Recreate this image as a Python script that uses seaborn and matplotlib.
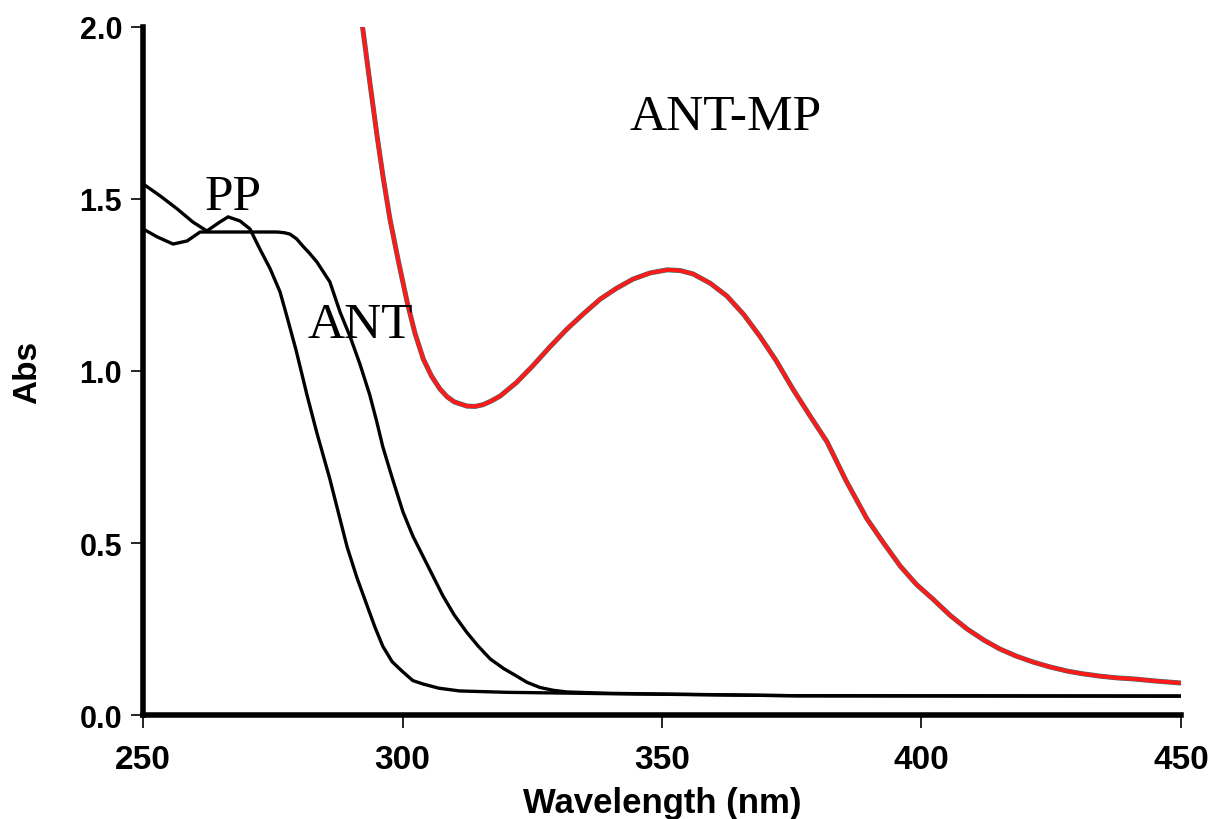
import numpy as np
import pandas as pd
import matplotlib.pyplot as plt
import seaborn as sns

# Data (wavelength in nm, absorbance)
pp_nm = [250, 253.3, 256.6, 259.6, 262.3, 264.8, 266.4, 268.7, 270.6, 272.5, 274.5, 276.4,
         277.7, 279.5, 281.6, 283.5, 286, 287.7, 289.3, 291.2, 293.2, 294.7, 296.2, 298,
         300.1, 302, 304, 307, 311, 320, 340, 376, 450]
pp_abs = [1.544, 1.509, 1.471, 1.433, 1.407, 1.433, 1.448, 1.436, 1.413, 1.355, 1.297, 1.23,
          1.16, 1.06, 0.93, 0.82, 0.686, 0.585, 0.49, 0.40, 0.317, 0.255, 0.20, 0.155,
          0.125, 0.10, 0.09, 0.078, 0.07, 0.066, 0.062, 0.056, 0.055]

ant_nm = [250, 252.7, 255.8, 258.5, 261, 266.2, 271.2, 275.8, 277.2, 278.3, 279.6, 280.8, 282.1,
          283.5, 286, 288, 289.9, 291.8, 293.7, 295, 296.2, 298, 300.1, 302, 304, 306, 307.8,
          310, 312.4, 314.6, 316.9, 319.5, 322, 324, 326.5, 329, 331.7, 340, 376, 450]
ant_abs = [1.413, 1.39, 1.369, 1.378, 1.404, 1.404, 1.404, 1.404, 1.402, 1.398, 1.384, 1.363, 1.342,
           1.317, 1.259, 1.17, 1.10, 1.02, 0.93, 0.855, 0.78, 0.69, 0.59, 0.52, 0.46, 0.40, 0.346,
           0.29, 0.24, 0.20, 0.163, 0.135, 0.113, 0.095, 0.08, 0.072, 0.067, 0.063, 0.056, 0.055]

antmp_nm = [292.3, 293.7, 295.1, 296.3, 297.6, 299.2, 300.9, 302.4, 304, 305.6, 307.2, 308.6,
            310, 312.4, 314, 315.5, 317, 318.8, 322, 325.1, 328.4, 331.7, 335, 338.1, 341.2,
            344.4, 347.7, 351, 353.5, 356, 359.3, 362.5, 365.7, 368.9, 372, 375.2, 378.5,
            381.8, 385.5, 389.5, 392.7, 395.9, 399, 402.2, 405.5, 408.8, 412, 415.1, 418.3,
            421.5, 424.7, 428, 431, 434.4, 437.6, 440.8, 445, 450]
antmp_abs = [2.0, 1.84, 1.683, 1.56, 1.44, 1.32, 1.20, 1.11, 1.035, 0.985, 0.948, 0.925,
             0.91, 0.898, 0.897, 0.902, 0.912, 0.927, 0.967, 1.015, 1.07, 1.122, 1.168, 1.209, 1.24,
             1.267, 1.285, 1.294, 1.292, 1.282, 1.255, 1.218, 1.165, 1.10, 1.03, 0.948, 0.87,
             0.794, 0.68, 0.57, 0.50, 0.433, 0.38, 0.337, 0.29, 0.25, 0.218, 0.192, 0.171,
             0.154, 0.14, 0.128, 0.12, 0.113, 0.108, 0.105, 0.099, 0.093]

x_ticks = [250, 300, 350, 400, 450]
y_ticks = [0.0, 0.5, 1.0, 1.5, 2.0]

sns.set_style('ticks')
plt.rcParams['font.family'] = ['Liberation Sans', 'DejaVu Sans']
plt.rcParams['text.color'] = 'black'
plt.rcParams['axes.labelcolor'] = 'black'
plt.rcParams['xtick.color'] = 'black'
plt.rcParams['ytick.color'] = 'black'

fig, ax = plt.subplots(figsize=(12.14, 8.2), dpi=100)
fig.subplots_adjust(left=0.1178, right=0.9728, top=0.9659, bottom=0.1268)

sns.lineplot(x=pp_nm, y=pp_abs, ax=ax, color='black', linewidth=2.4, sort=False)
sns.lineplot(x=ant_nm, y=ant_abs, ax=ax, color='black', linewidth=2.4, sort=False)
sns.lineplot(x=antmp_nm, y=antmp_abs, ax=ax, color='#3a6e6e', linewidth=3.6, sort=False)
sns.lineplot(x=antmp_nm, y=antmp_abs, ax=ax, color='#ff1a1a', linewidth=2.8, sort=False)

ax.set_xlim(250, 450)
ax.set_ylim(0, 2.0)
ax.set_xticks(x_ticks)
ax.set_yticks(y_ticks)
ax.set_xticklabels([str(t) for t in x_ticks], fontsize=24, fontweight='bold')
ax.set_yticklabels([f'{t:.1f}' for t in y_ticks], fontsize=22, fontweight='bold')
ax.tick_params(direction='out', length=9, width=1.2, color='black')
ax.tick_params(axis='x', pad=12)
ax.tick_params(axis='y', pad=6)

for side in ['top', 'right']:
    ax.spines[side].set_visible(False)
for side in ['left', 'bottom']:
    ax.spines[side].set_linewidth(4)
    ax.spines[side].set_color('black')

ax.set_xlabel('Wavelength (nm)', fontsize=25, fontweight='bold', labelpad=8)
ax.set_ylabel('Abs', fontsize=24, fontweight='bold', labelpad=26)

serif = ['Liberation Serif', 'DejaVu Serif']
ax.text(261.9, 1.471, 'PP', fontsize=37, family=serif, va='baseline')
ax.text(281.6, 1.099, 'ANT', fontsize=37, family=serif, va='baseline')
ax.text(343.8, 1.703, 'ANT-MP', fontsize=37, family=serif, va='baseline')

fig.savefig('out.png', dpi=100)
